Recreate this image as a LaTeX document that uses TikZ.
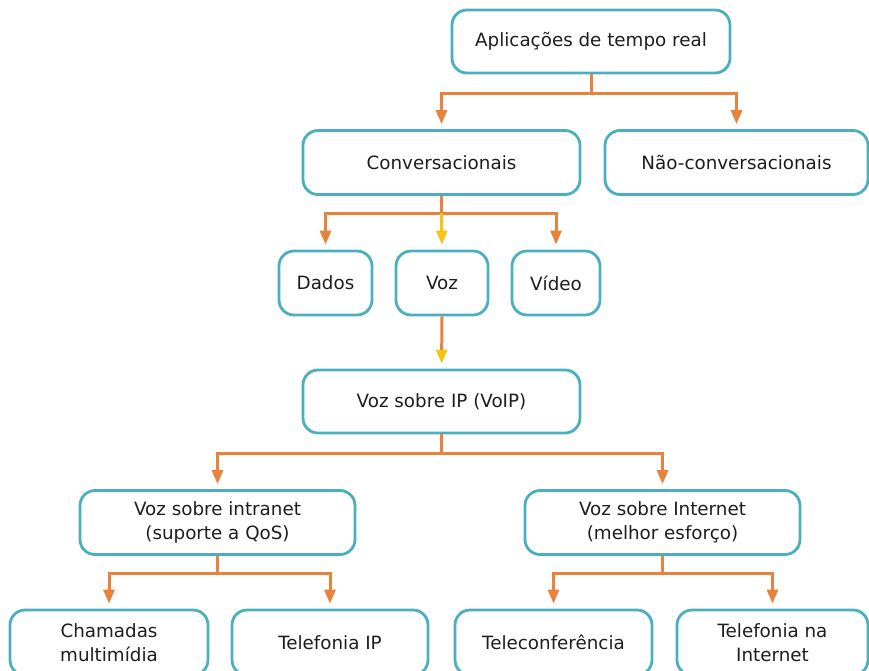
\documentclass[tikz,border=0pt]{standalone}
\usepackage{fontspec}
\setmainfont{DejaVu Sans}
\usetikzlibrary{arrows.meta}
\definecolor{boxc}{RGB}{75,176,190}
\definecolor{arrc}{RGB}{232,130,60}
\definecolor{yelc}{RGB}{245,196,20}
\definecolor{txtc}{RGB}{30,30,30}
\begin{document}
\begin{tikzpicture}[x=1pt,y=-1pt,
  box/.style={draw=boxc, line width=2.8pt, rounded corners=15pt, fill=white,
    text=txtc, align=center, inner sep=0pt,
    font=\fontsize{18.3}{24.5}\selectfont},
  wire/.style={draw=arrc, line width=3pt},
  arr/.style={wire, -{Triangle[length=14pt,width=11pt]}, shorten >=5pt},
  yarr/.style={wire, -{Triangle[length=14pt,width=11pt,color=yelc]}, shorten >=5pt}
]
\useasboundingbox (0,0) rectangle (869,670);
\fill[white] (0,0) rectangle (869,670);

\node[box, minimum width=278pt, minimum height=63pt] (top) at (591,41.5) {Aplicações de tempo real};
\node[box, minimum width=277pt, minimum height=64pt] (conv) at (441.5,162.5) {Conversacionais};
\node[box, minimum width=263pt, minimum height=64pt] (nconv) at (736.5,162.5) {Não-conversacionais};
\node[box, minimum width=93pt, minimum height=64pt] (dados) at (325.5,283) {Dados};
\node[box, minimum width=92pt, minimum height=64pt] (voz) at (442,283) {Voz};
\node[box, minimum width=88pt, minimum height=64pt] (video) at (556,283) {Vídeo};
\node[box, minimum width=277pt, minimum height=63pt] (voip) at (441.5,401.5) {Voz sobre IP (VoIP)};
\node[box, minimum width=275pt, minimum height=64pt] (intra) at (217.5,522.5) {Voz sobre intranet\\(suporte a QoS)};
\node[box, minimum width=275pt, minimum height=64pt] (inter) at (662.5,522.5) {Voz sobre Internet\\(melhor esforço)};
\node[box, minimum width=198pt, minimum height=65pt] (cham) at (109,642.5) {Chamadas\\multimídia};
\node[box, minimum width=196pt, minimum height=65pt] (telip) at (330,642.5) {Telefonia IP};
\node[box, minimum width=197pt, minimum height=65pt] (telec) at (553.5,642.5) {Teleconferência};
\node[box, minimum width=191pt, minimum height=65pt] (telint) at (772.5,642.5) {Telefonia na\\Internet};

% junctions
\coordinate (j1) at (591,93);
\coordinate (j2) at (441.5,213);
\coordinate (j3) at (441.5,453);
\coordinate (j4) at (217.5,573);
\coordinate (j5) at (662.5,573);

\draw[wire] (top.south) -- (j1);
\draw[arr] (j1) -| (conv.north);
\draw[arr] (j1) -| (nconv.north);

\draw[wire] (conv.south) -- (j2);
\draw[arr] (j2) -| (dados.north);
\draw[arr] (j2) -| (video.north);
\draw[draw=yelc, line width=3pt, -{Triangle[length=14pt,width=11pt]}, shorten >=5pt] (j2) -- (voz.north);

\draw[yarr] (voz.south) -- (voip.north);

\draw[wire] (voip.south) -- (j3);
\draw[arr] (j3) -| (intra.north);
\draw[arr] (j3) -| (inter.north);

\draw[wire] (intra.south) -- (j4);
\draw[arr] (j4) -| (cham.north);
\draw[arr] (j4) -| (telip.north);

\draw[wire] (inter.south) -- (j5);
\draw[arr] (j5) -| (telec.north);
\draw[arr] (j5) -| (telint.north);
\end{tikzpicture}
\end{document}
